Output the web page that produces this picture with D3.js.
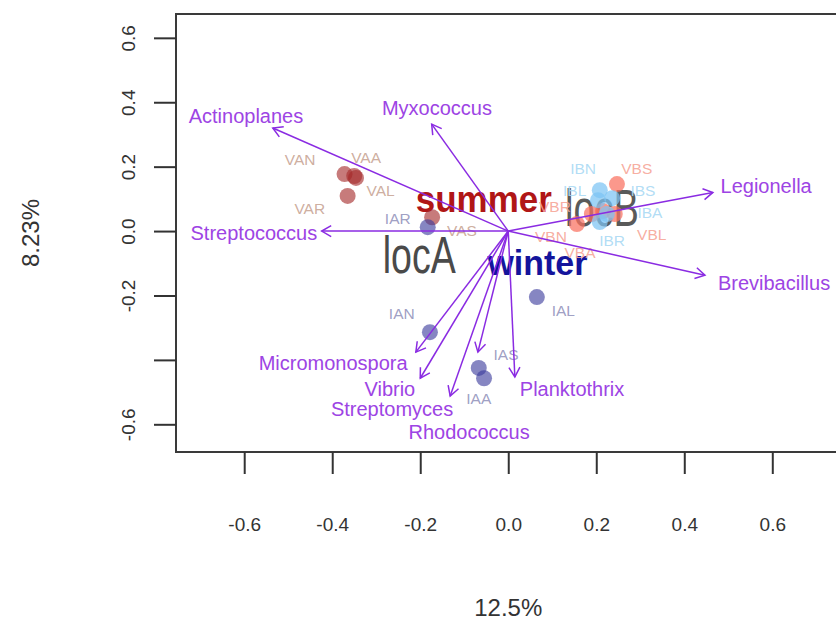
<!DOCTYPE html>
<html>
<head>
<meta charset="utf-8">
<script src="https://cdn.jsdelivr.net/npm/d3@7"></script>
<style>
  body { margin: 0; background: #fff; }
  svg { display: block; font-family: "Liberation Sans", Arial, sans-serif; }
</style>
</head>
<body>
<svg id="chart" width="836" height="627"></svg>
<script>
// site scores (V = summer, I = winter; A = locA, B = locB)
const siteNames = ["VAN", "VAA", "VAL", "VAR", "VAS",
                   "IAR", "IAN", "IAS", "IAA", "IAL",
                   "VBS", "VBA", "VBR", "VBN", "VBL",
                   "IBN", "IBL", "IBS", "IBA", "IBR"];
const siteX = [-0.372, -0.350, -0.346, -0.365, -0.173,
               -0.183, -0.178, -0.067, -0.055, 0.065,
               0.247, 0.215, 0.190, 0.156, 0.242,
               0.208, 0.204, 0.236, 0.224, 0.208];
const siteY = [0.177, 0.171, 0.165, 0.109, 0.043,
               0.012, -0.314, -0.425, -0.457, -0.205,
               0.146, 0.062, 0.053, 0.022, 0.053,
               0.127, 0.096, 0.102, 0.053, 0.028];
// where each site label sits (data units)
const siteLabelX = [-0.473, -0.323, -0.290, -0.451, -0.105,
                    -0.251, -0.242, -0.005, -0.067, 0.125,
                    0.292, 0.163, 0.106, 0.097, 0.326,
                    0.170, 0.151, 0.306, 0.322, 0.236];
const siteLabelY = [0.224, 0.230, 0.127, 0.071, 0.003,
                    0.040, -0.255, -0.382, -0.519, -0.245,
                    0.196, -0.065, 0.078, -0.016, -0.009,
                    0.196, 0.127, 0.127, 0.059, -0.028];

// species vectors
const species = ["Actinoplanes", "Myxococcus", "Streptococcus", "Legionella", "Brevibacillus",
                 "Micromonospora", "Vibrio", "Streptomyces", "Rhodococcus", "Planktothrix"];
const speciesX = [-0.535, -0.174, -0.424, 0.465, 0.447, -0.210, -0.200, -0.132, -0.069, 0.015];
const speciesY = [0.320, 0.332, 0.000, 0.120, -0.137, -0.376, -0.457, -0.512, -0.376, -0.453];
const speciesLabelX = [-0.596, -0.162, -0.578, 0.586, 0.604, -0.398, -0.269, -0.264, -0.089, 0.145];
const speciesLabelY = [0.357, 0.382, -0.006, 0.140, -0.161, -0.410, -0.490, -0.553, -0.624, -0.490];

const xTicks = [-0.6, -0.4, -0.2, 0.0, 0.2, 0.4, 0.6];
const yTicks = [-0.6, -0.4, -0.2, 0.0, 0.2, 0.4, 0.6];
const yTickLabels = ["-0.6", "", "-0.2", "0.0", "0.2", "0.4", "0.6"];
const xTitle = "12.5%";
const yTitle = "8.23%";

const svg = d3.select("#chart");

const x = d3.scaleLinear().domain([-0.755, 0.755]).range([176, 840.5]);
const y = d3.scaleLinear().domain([-0.686, 0.674]).range([452, 14]);

const sites = siteNames.map((n, i) => ({
  name: n, x: siteX[i], y: siteY[i], lx: siteLabelX[i], ly: siteLabelY[i],
  season: n[0] === "V" ? "summer" : "winter",
  loc: n[1] === "A" ? "locA" : "locB",
  grp: n.slice(0, 2)
}));

const pointFill = { VA: "#a52a2a", IA: "#3c3c9c", VB: "#fa7060", IB: "#7cc4f4" };
const pointAlpha = { VA: 0.62, IA: 0.62, VB: 0.72, IB: 0.72 };
const labelFill = { VA: "#c8a494", IA: "#9494bc", VB: "#f6a496", IB: "#a9d9f4" };

// group centroid labels
const groups = [
  { key: "summer", field: "season", color: "#b01616", weight: "bold", size: 36, len: 136 },
  { key: "winter", field: "season", color: "#14149c", weight: "bold", size: 35, len: 100 },
  { key: "locA", field: "loc", color: "#4a4a4a", weight: "normal", size: 52, len: 73 },
  { key: "locB", field: "loc", color: "#5a5a5a", weight: "normal", size: 52, len: 74 }
];
groups.forEach(g => {
  const members = sites.filter(s => s[g.field] === g.key);
  g.cx = d3.mean(members, d => d.x);
  g.cy = d3.mean(members, d => d.y);
});

svg.append("g")
  .selectAll("text")
  .data(groups).enter()
  .append("text")
  .attr("x", d => x(d.cx))
  .attr("y", d => y(d.cy))
  .attr("dy", "0.36em")
  .attr("text-anchor", "middle")
  .attr("font-size", d => d.size)
  .attr("font-weight", d => d.weight)
  .attr("textLength", d => d.len)
  .attr("lengthAdjust", "spacingAndGlyphs")
  .attr("fill", d => d.color)
  .text(d => d.key);

// points
svg.append("g")
  .selectAll("circle")
  .data(sites).enter()
  .append("circle")
  .attr("cx", d => x(d.x))
  .attr("cy", d => y(d.y))
  .attr("r", 8)
  .attr("fill", d => pointFill[d.grp])
  .attr("fill-opacity", d => pointAlpha[d.grp]);

// site labels
svg.append("g")
  .selectAll("text")
  .data(sites).enter()
  .append("text")
  .attr("x", d => x(d.lx))
  .attr("y", d => y(d.ly))
  .attr("dy", "0.36em")
  .attr("text-anchor", "middle")
  .attr("font-size", 15.5)
  .attr("fill", d => labelFill[d.grp])
  .attr("fill-opacity", 0.9)
  .text(d => d.name);

// species arrows
const arrowColor = "#8a2be2";
const spec = species.map((n, i) => ({ name: n, x: speciesX[i], y: speciesY[i], lx: speciesLabelX[i], ly: speciesLabelY[i] }));

const arrows = svg.append("g")
  .attr("stroke", arrowColor)
  .attr("stroke-width", 1.5)
  .attr("fill", "none");

arrows.selectAll("line")
  .data(spec).enter()
  .append("line")
  .attr("x1", x(0)).attr("y1", y(0))
  .attr("x2", d => x(d.x)).attr("y2", d => y(d.y));

arrows.selectAll("path")
  .data(spec).enter()
  .append("path")
  .attr("d", d => {
    const x1 = x(d.x), y1 = y(d.y);
    const a = Math.atan2(y1 - y(0), x1 - x(0));
    const L = 11, h = Math.PI / 6;
    return "M" + (x1 - L * Math.cos(a - h)) + "," + (y1 - L * Math.sin(a - h)) +
           "L" + x1 + "," + y1 +
           "L" + (x1 - L * Math.cos(a + h)) + "," + (y1 - L * Math.sin(a + h));
  });

svg.append("g")
  .selectAll("text")
  .data(spec).enter()
  .append("text")
  .attr("x", d => x(d.lx))
  .attr("y", d => y(d.ly))
  .attr("dy", "0.36em")
  .attr("text-anchor", "middle")
  .attr("font-size", 20)
  .attr("fill", "#9d44e4")
  .text(d => d.name);

// frame
svg.append("rect")
  .attr("x", x.range()[0]).attr("y", y.range()[1])
  .attr("width", x.range()[1] - x.range()[0])
  .attr("height", y.range()[0] - y.range()[1])
  .attr("fill", "none")
  .attr("stroke", "#3a3a3a")
  .attr("stroke-width", 2);

// x axis
const xAxis = svg.append("g")
  .attr("transform", "translate(0," + y.range()[0] + ")")
  .call(d3.axisBottom(x).tickValues(xTicks).tickSize(22).tickPadding(44).tickFormat(d3.format(".1f")));
xAxis.select(".domain").remove();
xAxis.selectAll(".tick line").attr("stroke", "#333").attr("stroke-width", 2);
xAxis.selectAll(".tick text").attr("font-size", 19).attr("fill", "#333")
  .attr("font-family", "Liberation Sans, Arial, sans-serif")
  .text(d => d3.format(".1f")(d).replace("−", "-"));

// y axis
const yAxis = svg.append("g")
  .attr("transform", "translate(" + x.range()[0] + ",0)")
  .call(d3.axisLeft(y).tickValues(yTicks).tickSize(22).tickFormat((d, i) => yTickLabels[i]));
yAxis.select(".domain").remove();
yAxis.selectAll(".tick line").attr("stroke", "#333").attr("stroke-width", 2);
yAxis.selectAll(".tick text")
  .attr("font-size", 19).attr("fill", "#333")
  .attr("font-family", "Liberation Sans, Arial, sans-serif")
  .attr("x", null).attr("dy", null)
  .attr("text-anchor", "middle")
  .attr("transform", "translate(-48,0) rotate(-90)")
  .attr("dominant-baseline", "central");

// axis titles
svg.append("text")
  .attr("x", (x.range()[0] + x.range()[1]) / 2)
  .attr("y", 607)
  .attr("dy", "0.36em")
  .attr("text-anchor", "middle")
  .attr("font-size", 24)
  .attr("fill", "#333")
  .text(xTitle);

svg.append("text")
  .attr("transform", "translate(30," + (y.range()[0] + y.range()[1]) / 2 + ") rotate(-90)")
  .attr("dy", "0.36em")
  .attr("text-anchor", "middle")
  .attr("font-size", 24)
  .attr("fill", "#333")
  .text(yTitle);
</script>
</body>
</html>
